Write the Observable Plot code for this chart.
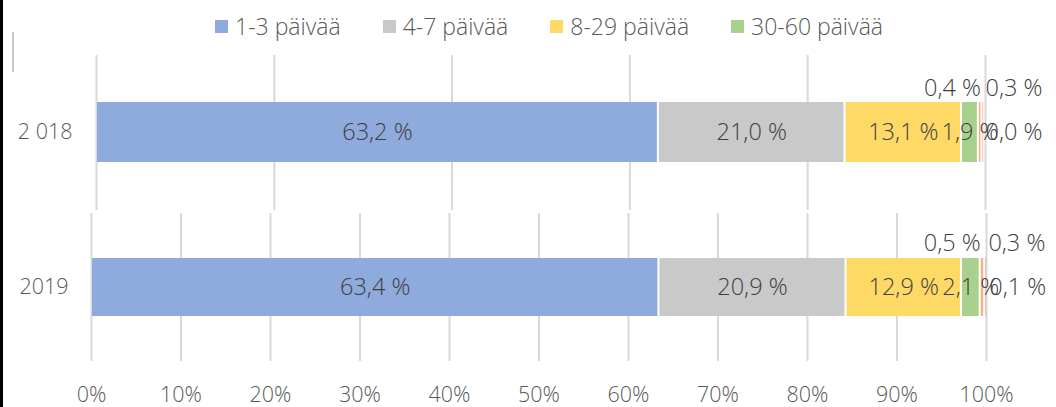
<!DOCTYPE html>
<html>
<head>
<meta charset="utf-8">
<script src="https://cdn.jsdelivr.net/npm/d3@7"></script>
<script src="https://cdn.jsdelivr.net/npm/@observablehq/plot@0.6"></script>
<style>
  html, body { margin: 0; padding: 0; background: #fff; }
  #wrap { position: relative; width: 1056px; height: 407px; overflow: hidden; font-family: "Open Sans", sans-serif; }
  #edge { position: absolute; left: 0; top: 0; width: 3px; height: 407px; background: #000; }
  #tick { position: absolute; left: 12px; top: 32px; width: 2px; height: 40px; background: #c8c8c8; }
  #legend { position: absolute; top: 10px; left: 215px; display: flex; align-items: center; gap: 42px; font-size: 23px; color: #595959; font-weight: 300; }
  #legend .item { display: flex; align-items: center; }
  #legend .sw { width: 13px; height: 13px; margin-right: 7px; }
  .panel { position: absolute; left: 0; }
</style>
</head>
<body>
<div id="wrap">
  <div id="legend"></div>
  <div id="top" class="panel" style="top:0px"></div>
  <div id="bottom" class="panel" style="top:213px"></div>
  <div id="edge"></div>
  <div id="tick"></div>
</div>
<script>
// ---- data ----
const seriesNames = ["1-3 päivää", "4-7 päivää", "8-29 päivää", "30-60 päivää", "61-90 päivää", "91-180 päivää", "yli 180 päivää"];
const legendSeries = ["1-3 päivää", "4-7 päivää", "8-29 päivää", "30-60 päivää"];
const seriesColors = ["#8FAADC", "#C9C9C9", "#FFD966", "#A9D18E", "#F4B183", "#F7A3A3", "#E06666"];
const years = ["2 018", "2019"];
const values2018 = [63.2, 21.0, 13.1, 1.9, 0.4, 0.3, 0.0];
const values2019 = [63.4, 20.9, 12.9, 2.1, 0.5, 0.3, 0.1];
const gridTop = [0, 20, 40, 60, 80, 100];
const gridBottom = [0, 10, 20, 30, 40, 50, 60, 70, 80, 90, 100];

// ---- helpers ----
const fmt = v => v.toFixed(1).replace(".", ",") + " %";
const FONT = "'Open Sans', sans-serif";
const labelColor = "#404040";
const axisColor = "#595959";
const LFS = 23.5;

// legend
const leg = document.getElementById("legend");
legendSeries.forEach(name => {
  const i = seriesNames.indexOf(name);
  const it = document.createElement("div");
  it.className = "item";
  const sw = document.createElement("span");
  sw.className = "sw";
  sw.style.background = seriesColors[i];
  const tx = document.createElement("span");
  tx.textContent = name;
  it.appendChild(sw); it.appendChild(tx);
  leg.appendChild(it);
});

function panel(year, values, opt) {
  const data = seriesNames.map((s, i) => ({year, series: s, value: values[i]}));
  const main = new Set(seriesNames.slice(0, 4));
  const S = seriesNames;
  const txt = (cond) => d => cond(d.series) ? fmt(d.value) : null;
  return Plot.plot({
    width: 1056,
    height: opt.height,
    marginTop: opt.marginTop,
    marginBottom: opt.marginBottom,
    marginLeft: opt.marginLeft,
    marginRight: opt.marginRight,
    style: {fontFamily: FONT, background: "transparent", overflow: "visible"},
    x: {domain: [0, 100]},
    y: {domain: [year], padding: 0.436},
    color: {domain: seriesNames, range: seriesColors},
    marks: [
      Plot.gridX(opt.grid, {stroke: "#d9d9d9", strokeOpacity: 1, strokeWidth: 2}),
      Plot.barX(data, Plot.stackX({x: "value", y: "year", fill: "series", order: null, insetLeft: 1, insetRight: 1})),
      Plot.text(data, Plot.stackX({x: "value", y: "year", order: null, text: txt(s => main.has(s)), fill: labelColor, fontSize: LFS, fontWeight: 300})),
      Plot.text(data, Plot.stackX2({x: "value", y: "year", order: null, text: txt(s => s === S[4]), fill: labelColor, fontSize: LFS, fontWeight: 300, textAnchor: "end", dx: opt.dxA, dy: -44})),
      Plot.text(data, Plot.stackX2({x: "value", y: "year", order: null, text: txt(s => s === S[5]), fill: labelColor, fontSize: LFS, fontWeight: 300, textAnchor: "start", dx: 1, dy: -44})),
      Plot.text(data, Plot.stackX2({x: "value", y: "year", order: null, text: txt(s => s === S[6]), fill: labelColor, fontSize: LFS, fontWeight: 300, textAnchor: "start", dx: 1})),
      Plot.axisY({tickSize: 0, tickPadding: opt.yPad, fontSize: 21.5, fontWeight: 300, color: axisColor, label: null}),
      opt.xLabels
        ? Plot.axisX(opt.grid, {tickSize: 0, tickPadding: 25, fontSize: 21.5, fontWeight: 300, color: axisColor, label: null, tickFormat: d => d + "%"})
        : Plot.axisX([], {label: null})
    ]
  });
}

document.getElementById("top").appendChild(panel(years[0], values2018, {
  height: 212, marginTop: 55, marginBottom: 2, marginLeft: 96, marginRight: 71,
  grid: gridTop, xLabels: false, yPad: 24, dxA: -1
}));
document.getElementById("bottom").appendChild(panel(years[1], values2019, {
  height: 194, marginTop: 0, marginBottom: 46, marginLeft: 91, marginRight: 70,
  grid: gridBottom, xLabels: true, yPad: 23, dxA: -4
}));
</script>
</body>
</html>
